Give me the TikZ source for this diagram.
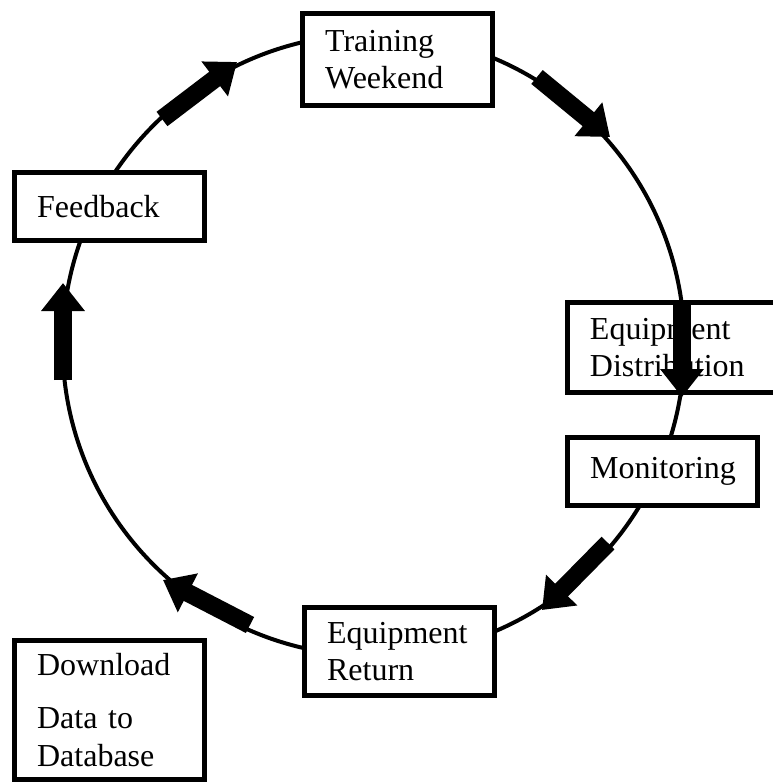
\documentclass[tikz,border=0pt]{standalone}
\usepackage{fontspec}
\setmainfont{Liberation Serif}
\usetikzlibrary{arrows.meta}

\tikzset{
    stage/.style={draw, fill=white, line width=1.9pt, align=left,
        text width=#1, inner xsep=8.4pt, inner ysep=0pt,
        font=\fontsize{12pt}{13.9pt}\selectfont},
    stage/.default=54.3pt,
    ring/.style={line width=1.5pt},
    flow/.style={line width=6.75pt, -{Triangle[width=15.75pt, length=10.5pt]}}
}

\begin{document}
\begin{tikzpicture}[x=0.375pt, y=-0.375pt]
    \useasboundingbox (0,0) rectangle (773,784);
    \coordinate (hub) at (373.5,345);
    \draw[ring] (hub) circle[radius=116.6pt];

    \node[stage, minimum height=34.5pt]        (train) at (397.5,59.5)  {Training\\Weekend};
    \node[stage, minimum height=25.5pt]        (feed)  at (109.5,206.5) {Feedback};
    \node[stage=69.4pt, minimum height=33.8pt] (dist)  at (682.5,347.5) {Equipment\\Distribution};
    \node[stage, minimum height=25.5pt]        (moni)  at (662.5,471.5) {Monitoring};
    \node[stage, minimum height=33pt]          (ret)   at (399.5,651.5) {Equipment\\Return};
    \node[stage, minimum height=52.1pt]        (down)  at (109.5,710)   {Download\\[6pt]Data to\\Database};

    \coordinate (t1) at (162,119);
    \coordinate (h1) at (237,62);
    \coordinate (t2) at (537,77);
    \coordinate (h2) at (610,137);
    \coordinate (t3) at (682,300);
    \coordinate (h3) at (682,397);
    \coordinate (t4) at (608,543);
    \coordinate (h4) at (542,610);
    \coordinate (t5) at (250,625);
    \coordinate (h5) at (163,580);
    \coordinate (t6) at (63,380);
    \coordinate (h6) at (63,283);

    \path
        (t1) edge [flow] (h1)
        (t2) edge [flow] (h2)
        (t3) edge [flow] (h3)
        (t4) edge [flow] (h4)
        (t5) edge [flow] (h5)
        (t6) edge [flow] (h6)
       ;
\end{tikzpicture}
\end{document}
